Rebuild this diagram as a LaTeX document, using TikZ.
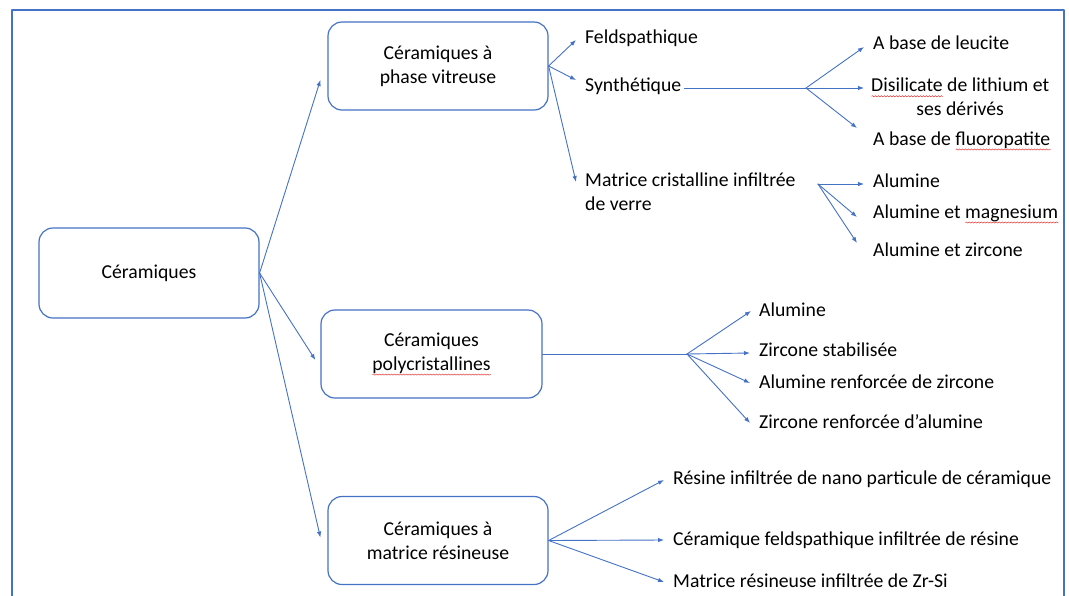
\documentclass[tikz,border=0pt]{standalone}
\usepackage{fontspec}
\setmainfont{Carlito}
\usetikzlibrary{arrows.meta,decorations.pathmorphing}
\definecolor{boxblue}{RGB}{68,114,196}
\definecolor{spellred}{RGB}{225,50,50}
\newsavebox{\spellbox}
\newlength{\spellwd}
\newcommand{\spell}[1]{\sbox{\spellbox}{#1}\setlength{\spellwd}{\wd\spellbox}\rlap{\tikz[baseline=0pt]\draw[spellred,sharp corners,line width=0.5pt,decorate,decoration={snake,amplitude=0.6pt,segment length=3pt}] (0pt,-4.5pt) -- (\spellwd,-4.5pt);}\usebox{\spellbox}}

\begin{document}
\begin{tikzpicture}[line cap=round,line join=round,x=1pt,y=-1pt,
  >={Latex[length=6pt,width=4.5pt]},
  every node/.style={font=\fontsize{19.7}{24}\selectfont},
  catbox/.style={draw=boxblue,line width=1.2pt,rounded corners=14pt,minimum width=220pt,minimum height=88pt,align=center},
  leaf/.style={anchor=west,inner sep=0pt,text height=14pt,text depth=4pt},
  twoline/.style={anchor=west,inner sep=0pt},
  link/.style={draw=boxblue,line width=0.9pt}]
\useasboundingbox (0,0) rectangle (1069,595);
\draw[boxblue,line width=2.4pt] (12,600) -- (12,10) -- (1064,10) -- (1064,600);
\node[catbox,minimum height=90pt] (root) at (149,273) {Céramiques};
\node[catbox] (vitr) at (438,66) {Céramiques à\\phase vitreuse};
\node[catbox,minimum width=221pt] (poly) at (431.5,354) {Céramiques\\\spell{polycristallines}};
\node[catbox] (resin) at (438,540.5) {Céramiques à\\matrice résineuse};
\node[leaf] (feld) at (585,38) {Feldspathique};
\node[leaf] (synth) at (585,86) {Synthétique};
\node[twoline,align=left] (matr) at (585,192) {Matrice cristalline infiltrée\\de verre};
\node[leaf] (leuc) at (873,44) {A base de leucite};
\node[twoline,align=center] (disil) at (871,97) {\spell{Disilicate} de lithium et\\ses dérivés};
\node[leaf] (fluo) at (873,140) {A base de \spell{fluoropatite}};
\node[leaf] (alum) at (873,182) {Alumine};
\node[leaf] (almg) at (873,213) {Alumine et \spell{magnesium}};
\node[leaf] (alzr) at (873,251) {Alumine et zircone};
\node[leaf] (alpc) at (759,311) {Alumine};
\node[leaf] (zrst) at (759,351) {Zircone stabilisée};
\node[leaf] (alrz) at (759,383) {Alumine renforcée de zircone};
\node[leaf] (zrra) at (759,423) {Zircone renforcée d’alumine};
\node[leaf] (rsnp) at (673,479) {Résine infiltrée de nano particule de céramique};
\node[leaf] (cfir) at (673,540) {Céramique feldspathique infiltrée de résine};
\node[leaf] (mrzs) at (673,582) {Matrice résineuse infiltrée de Zr-Si};
\coordinate (fk1) at (806,88);
\coordinate (fk2) at (818,184);
\coordinate (fk3) at (687,354);
\draw[link,->] (root.east) -- ([xshift=-7pt,yshift=-14pt]vitr.west);
\draw[link,->] (root.east) -- ([xshift=-5pt,yshift=-6pt]poly.west);
\draw[link,->] (root.east) -- ([xshift=-7pt,yshift=3pt]resin.west);
\draw[link,->] (vitr.east) -- ([xshift=-9pt,yshift=-2pt]feld.west);
\draw[link,->] (vitr.east) -- ([xshift=-9pt,yshift=6pt]synth.west);
\draw[link,->] (vitr.east) -- ([xshift=-9pt,yshift=10pt]matr.west);
\draw[link] ([xshift=3pt,yshift=-2pt]synth.east) -- (fk1);
\draw[link,->] (fk1) -- ([xshift=-9pt,yshift=-3pt]leuc.west);
\draw[link,->] (fk1) -- ([xshift=-7pt,yshift=9pt]disil.west);
\draw[link,->] (fk1) -- ([xshift=-16pt,yshift=12pt]fluo.west);
\draw[link,->] (fk2) -- ([xshift=-9pt,yshift=-2pt]alum.west);
\draw[link,->] (fk2) -- ([xshift=-16pt,yshift=-4pt]almg.west);
\draw[link,->] (fk2) -- ([xshift=-16pt,yshift=8pt]alzr.west);
\draw[link] (poly.east) -- (fk3);
\draw[link,->] (fk3) -- ([xshift=-8pt]alpc.west);
\draw[link,->] (fk3) -- ([xshift=-9pt,yshift=-2pt]zrst.west);
\draw[link,->] (fk3) -- ([xshift=-9pt]alrz.west);
\draw[link,->] (fk3) -- ([xshift=-9pt]zrra.west);
\draw[link,->] (resin.east) -- ([xshift=-9pt,yshift=-1pt]rsnp.west);
\draw[link,->] (resin.east) -- ([xshift=-9pt]cfir.west);
\draw[link,->] (resin.east) -- ([xshift=-9pt]mrzs.west);
\end{tikzpicture}
\end{document}
